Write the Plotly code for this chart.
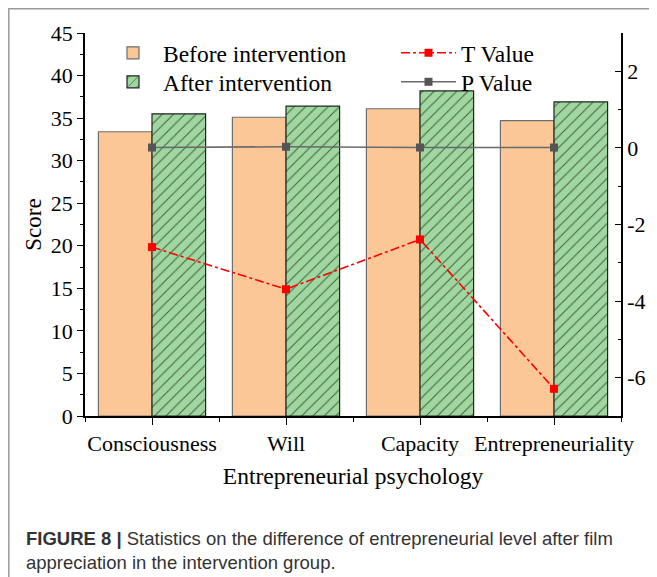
import plotly.graph_objects as go

categories = ["Consciousness", "Will", "Capacity", "Entrepreneuriality"]
before = [33.4, 35.1, 36.1, 34.7]
after = [35.5, 36.4, 38.2, 36.9]
t_value = [-2.59, -3.69, -2.39, -6.29]
p_value = [0.01, 0.03, 0.01, 0.01]
left_ticks = [0, 5, 10, 15, 20, 25, 30, 35, 40, 45]
right_ticks = [-6, -4, -2, 0, 2]

xpos = list(range(len(categories)))
SERIF = "Liberation Serif"

# the page body adds an 8px margin, so the figure is drawn at (8, 8)
OFF = 8
W, H = 657 - OFF, 577 - OFF
L, R, T, B = 85 - OFF, 36, 33 - OFF, 161
pw, ph = W - L - R, H - T - B


def px_x(sx):
    return (sx - OFF - L) / pw


def px_y(sy):
    return (H - B - (sy - OFF)) / ph


fig = go.Figure()
fig.add_trace(go.Bar(
    x=xpos, y=before, name="Before intervention",
    marker=dict(color="#fbc797", line=dict(color="#6e6e6e", width=1.2)),
    legend="legend2", showlegend=True,
))
fig.add_trace(go.Bar(
    x=xpos, y=after, name="After intervention",
    marker=dict(color="#a0d6a0", line=dict(color="#222222", width=1.2),
                pattern=dict(shape="/", fgcolor="#3d5e3d", bgcolor="#a0d6a0",
                             size=8, solidity=0.12, fillmode="replace")),
    legend="legend3", showlegend=True,
))
fig.add_trace(go.Scatter(
    x=xpos, y=t_value, name="T Value", yaxis="y2", mode="lines+markers",
    line=dict(color="#ff0000", width=1.6, dash="dashdot"),
    marker=dict(symbol="square", size=8, color="#ff0000"),
    legend="legend4", showlegend=True,
))
fig.add_trace(go.Scatter(
    x=xpos, y=p_value, name="P Value", yaxis="y2", mode="lines+markers",
    line=dict(color="#6a6a6a", width=1.6),
    marker=dict(symbol="square", size=8, color="#555555"),
    legend="legend5", showlegend=True,
))

leg_common = dict(xanchor="left", yanchor="middle", bgcolor="rgba(0,0,0,0)",
                  font=dict(size=23.5, family=SERIF), tracegroupgap=0)

fig.update_layout(
    width=W, height=H,
    margin=dict(l=L, r=R, t=T, b=B),
    paper_bgcolor="white", plot_bgcolor="white",
    font=dict(family=SERIF, color="black", size=22),
    barmode="group", bargap=0.2, bargroupgap=0,
    showlegend=True,
    xaxis=dict(
        range=[-0.5, 3.5], tickvals=xpos, ticktext=categories,
        showline=True, linecolor="black", linewidth=1.5, mirror=False,
        ticks="outside", ticklen=7, tickwidth=1.2, tickcolor="black",
        minor=dict(dtick=0.5, tick0=-0.5, ticks="outside", ticklen=4, tickwidth=1.2, tickcolor="black"),
        showgrid=False, zeroline=False,
        tickfont=dict(size=22, family=SERIF),
        title=dict(text="Entrepreneurial psychology", font=dict(size=23.5, family=SERIF), standoff=12),
    ),
    yaxis=dict(
        range=[0, 45], tickvals=left_ticks,
        showline=True, linecolor="black", linewidth=1.5,
        ticks="outside", ticklen=6, tickwidth=1.2, tickcolor="black",
        minor=dict(dtick=2.5, ticks="outside", ticklen=3, tickwidth=1.2, tickcolor="black"),
        showgrid=False, zeroline=False,
        tickfont=dict(size=22, family=SERIF),
        title=dict(text="Score", font=dict(size=23, family=SERIF), standoff=3),
    ),
    yaxis2=dict(
        range=[-7, 3], tickvals=right_ticks, ticktext=[str(v) for v in right_ticks],
        overlaying="y", side="right",
        showline=True, linecolor="black", linewidth=1.5,
        ticks="inside", ticklen=6, tickwidth=1.2, tickcolor="black",
        minor=dict(dtick=1, ticks="inside", ticklen=3, tickwidth=1.2, tickcolor="black"),
        showgrid=False, zeroline=False,
        tickfont=dict(size=22, family=SERIF),
    ),
    legend2=dict(x=px_x(103), y=px_y(53), itemwidth=50, **leg_common),
    legend3=dict(x=px_x(103), y=px_y(82), itemwidth=50, **leg_common),
    legend4=dict(x=px_x(396), y=px_y(53), itemwidth=55, **leg_common),
    legend5=dict(x=px_x(396), y=px_y(82), itemwidth=55, **leg_common),
    shapes=[dict(
        type="rect", xref="paper", yref="paper",
        x0=px_x(8.8), x1=px_x(720), y0=px_y(640), y1=px_y(8.8),
        line=dict(color="#9a9a9a", width=1.5), fillcolor="rgba(0,0,0,0)", layer="below",
    )],
    annotations=[
        dict(text="<b>FIGURE 8 |</b> Statistics on the difference of entrepreneurial level after film",
             xref="paper", yref="paper", x=px_x(24), y=px_y(538), xanchor="left", yanchor="middle",
             showarrow=False, font=dict(family="Liberation Sans", size=18.5, color="#333333")),
        dict(text="appreciation in the intervention group.",
             xref="paper", yref="paper", x=px_x(24), y=px_y(562), xanchor="left", yanchor="middle",
             showarrow=False, font=dict(family="Liberation Sans", size=18.5, color="#333333")),
    ],
)

fig.write_html("out.html")
